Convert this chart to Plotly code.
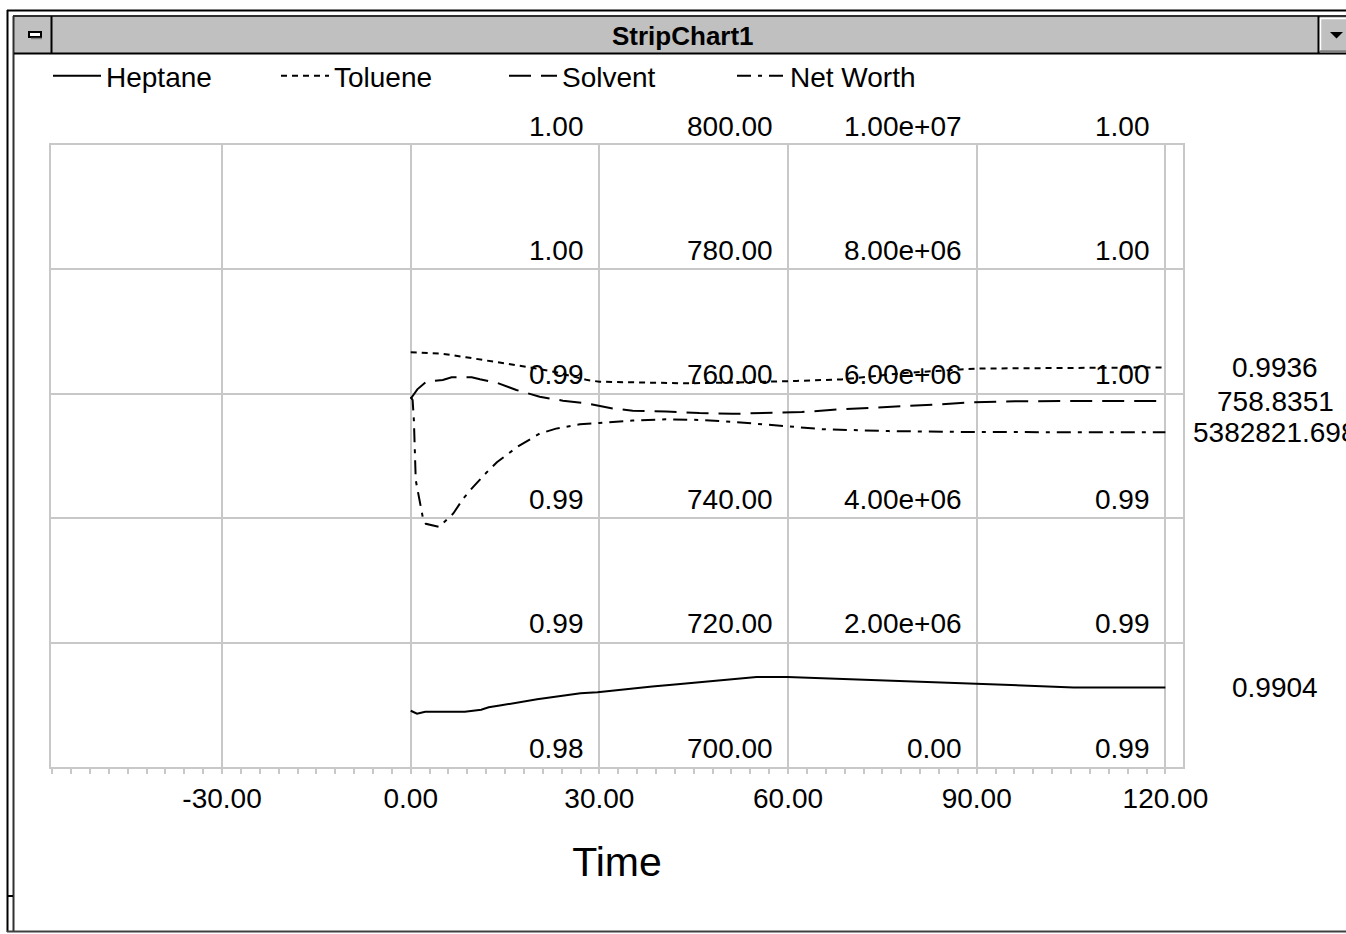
import plotly.graph_objects as go

# ---------------- data (time axis shared by all strips) ----------------
t_heptane = [0, 1.0, 2.3, 8.6, 11.2, 12.4, 14.4, 16.1, 18.1, 20.1, 22.4, 24.6, 27.0,
             29.7, 32.3, 35.1, 38.4, 42.0, 45.7, 49.8, 55.0, 59.9, 68.2, 79.0, 86.3,
             94.8, 105.4, 120.0]
heptane = [0.98993, 0.98987, 0.98991, 0.98991, 0.98995, 0.99000, 0.99004, 0.99008,
           0.99012, 0.99016, 0.99020, 0.99024, 0.99028, 0.99030, 0.99034, 0.99038,
           0.99042, 0.99046, 0.99050, 0.99055, 0.99061, 0.99061, 0.99057, 0.99052,
           0.99048, 0.99044, 0.99040, 0.9904]

t_toluene = [0, 5.1, 8.8, 12.0, 15.7, 18.9, 23.0, 27.9, 30.0, 35.3, 43.8, 51.2, 57.6,
             61.3, 68.5, 78.9, 90.0, 104.8, 120.0]
toluene = [0.99399, 0.99395, 0.99386, 0.99378, 0.99369, 0.99360, 0.99348, 0.99328,
           0.99323, 0.99321, 0.99319, 0.99321, 0.99323, 0.99325, 0.99329, 0.99346,
           0.99357, 0.99359, 0.9936]

t_solvent = [0, 1.05, 2.5, 5.1, 6.5, 9.7, 11.0, 13.7, 16.8, 20.5, 24.2, 27.9, 32.1,
             35.3, 40.6, 45.9, 51.2, 58.0, 62.2, 68.5, 76.0, 82.9, 89.2, 96.1, 104.8,
             120.0]
solvent = [759.2, 760.72, 761.95, 762.22, 762.65, 762.65, 762.33, 761.78, 760.61,
           759.53, 758.89, 758.46, 757.65, 757.28, 757.17, 756.90, 756.78, 756.90,
           757.07, 757.52, 757.85, 758.23, 758.62, 758.80, 758.84, 758.8351]

t_networth = [0, 0.3, 0.5, 0.6, 0.7, 0.8, 1.4, 2.0, 2.4, 4.5, 6.2, 6.8, 8.3, 9.9, 12.1,
              13.7, 17.0, 20.5, 23.1, 26.9, 30.0, 35.3, 40.6, 45.9, 51.2, 57.6, 61.3,
              65.6, 76.0, 90.0, 104.8, 120.0]
networth = [5.95e6, 5.90e6, 5.58e6, 5.26e6, 4.97e6, 4.61e6, 4.29e6, 3.97e6, 3.91e6,
            3.86e6, 4.02e6, 4.08e6, 4.31e6, 4.50e6, 4.74e6, 4.90e6, 5.15e6, 5.36e6,
            5.44e6, 5.51e6, 5.53e6, 5.57e6, 5.59e6, 5.58e6, 5.55e6, 5.50e6, 5.47e6,
            5.43e6, 5.40e6, 5.385e6, 5.383e6, 5382821.698]

# ---------------- scales and tick labels ----------------
x_range = [-57.2, 122.8]
x_ticks = [-30, 0, 30, 60, 90, 120]
x_tick_labels = ["-30.00", "0.00", "30.00", "60.00", "90.00", "120.00"]

toluene_range = [0.98332, 0.99932]
toluene_ticks = ["0.98", "0.99", "0.99", "0.99", "1.00", "1.00"]
solvent_range = [700.0, 800.0]
solvent_ticks = ["700.00", "720.00", "740.00", "760.00", "780.00", "800.00"]
networth_range = [0.0, 1.0e7]
networth_ticks = ["0.00", "2.00e+06", "4.00e+06", "6.00e+06", "8.00e+06", "1.00e+07"]
heptane_range = [0.9888, 1.0013]
heptane_ticks = ["0.99", "0.99", "0.99", "1.00", "1.00", "1.00"]

# ---------------- page geometry ----------------
W, H = 1346, 934
ML, MR, MT, MB = 51, 163, 145, 167
PW, PH = W - ML - MR, H - MT - MB

FONT = "Liberation Sans, Arial, sans-serif"
GRID = "#c8c8c8"
FACE = "#c0c0c0"
TXT = 28


def fx(px):
    return (px - ML) / PW


def fy(py):
    return (H - MB - py) / PH


def strip_ticks(rng, n):
    lo, hi = rng
    step = (hi - lo) / (n - 1)
    return [lo + i * step for i in range(n - 1)] + [hi]


fig = go.Figure()

# name, time, values, y axis, dash, range, tick labels, column (time), value format
# Heptane sits on the main y axis, whose gridlines give the shared strip grid;
# the other strips get their own scales laid over it.
series = [
    ("Heptane", t_heptane, heptane, "y", "solid", heptane_range, heptane_ticks, 120, "{:.4f}"),
    ("Toluene", t_toluene, toluene, "y2", "6px,5px", toluene_range, toluene_ticks, 30, "{:.4f}"),
    ("Solvent", t_solvent, solvent, "y3", "22px,10px", solvent_range, solvent_ticks, 60, "{:.4f}"),
    ("Net Worth", t_networth, networth, "y4", "14px,7px,4px,7px", networth_range, networth_ticks, 90, "{:.3f}"),
]

for name, t, v, yax, dash, *_ in series:
    fig.add_trace(go.Scatter(x=t, y=v, name=name, yaxis=yax, mode="lines",
                             line=dict(color="black", width=2, dash=dash),
                             hoverinfo="skip"))

txt_font = dict(family=FONT, size=TXT, color="black")

layout_axes = {}
annotations = []
for name, t, v, yax, dash, rng, labels, col, fmt in series:
    if yax != "y":
        layout_axes["yaxis" + yax[1:]] = dict(overlaying="y", anchor="x", side="right",
                                             range=rng, visible=False, fixedrange=True)
    # value column printed just above each horizontal gridline
    for val, lab in zip(strip_ticks(rng, len(labels)), labels):
        annotations.append(dict(x=col, xref="x", y=val, yref=yax, text=lab,
                                showarrow=False, xanchor="right", yanchor="middle",
                                xshift=-13, yshift=19, font=txt_font))
    # latest value of the strip
    annotations.append(dict(x=fx(1275), xref="paper", y=v[-1], yref=yax,
                            text=fmt.format(v[-1]), showarrow=False,
                            xanchor="center", yanchor="middle", font=txt_font))

annotations.append(dict(x=fx(683), xref="paper", y=fy(36), yref="paper",
                        text="<b>StripChart1</b>", showarrow=False,
                        xanchor="center", yanchor="middle",
                        font=dict(family=FONT, size=26, color="black")))

# window frame drawn around the chart
shapes = []


def rect(x0, y0, x1, y1, fill, line_color=None, lw=0):
    shapes.append(dict(type="rect", xref="paper", yref="paper",
                       x0=fx(x0), x1=fx(x1), y0=fy(y0), y1=fy(y1),
                       fillcolor=fill, layer="above",
                       line=dict(color=line_color or fill, width=lw)))


def seg(x0, y0, x1, y1, color="black", lw=2):
    shapes.append(dict(type="line", xref="paper", yref="paper",
                       x0=fx(x0), x1=fx(x1), y0=fy(y0), y1=fy(y1), layer="above",
                       line=dict(color=color, width=lw)))


rect(14, 17, W, 53, FACE)                    # caption bar
seg(7.5, 10, 7.5, 932)                       # outer frame
seg(7, 10.5, W, 10.5)
seg(13.5, 16, 13.5, 932, "#303030")          # inner frame
seg(13, 16, W, 16, "#303030")
seg(14, 53.5, W, 53.5)                       # caption bottom edge
seg(51.5, 16, 51.5, 54)                      # system menu separator
seg(7, 931.5, W, 931.5, "#404040")           # bottom edge
seg(7, 896, 13, 896)
rect(29, 32, 41, 37, "white", "black", 2)    # system menu glyph
seg(31, 38.5, 42, 38.5, "#808080", 1.5)
# drop-down button
seg(1318.5, 16, 1318.5, 54)
seg(1320.5, 18, 1320.5, 51, "white", 1.5)
seg(1320, 18.5, W, 18.5, "white", 1.5)
seg(1320, 51.5, W, 51.5, "#808080", 2.5)
shapes.append(dict(type="path", xref="paper", yref="paper", layer="above",
                   path="M {} {} L {} {} L {} {} Z".format(
                       fx(1330), fy(32), fx(1343), fy(32), fx(1336.5), fy(38.5)),
                   fillcolor="black", line=dict(color="black", width=0)))

fig.update_layout(
    width=W, height=H,
    margin=dict(l=ML, r=MR, t=MT, b=MB, pad=0),
    paper_bgcolor="white", plot_bgcolor="white",
    font=txt_font,
    showlegend=True,
    legend=dict(orientation="h", x=fx(48), y=fy(76), xanchor="left", yanchor="middle",
                font=txt_font, bgcolor="rgba(0,0,0,0)", borderwidth=0,
                itemwidth=48, entrywidth=165, entrywidthmode="pixels",
                itemclick=False, itemdoubleclick=False),
    xaxis=dict(range=x_range, tickmode="array", tickvals=x_ticks, ticktext=x_tick_labels,
               ticks="outside", ticklen=5, tickwidth=1.5, tickcolor=GRID,
               showgrid=True, gridcolor=GRID, gridwidth=2, zeroline=False,
               showline=True, linecolor=GRID, linewidth=2, mirror=True,
               tickfont=txt_font,
               minor=dict(dtick=3, tick0=0, ticks="outside", ticklen=5,
                          tickwidth=1.5, tickcolor=GRID, showgrid=False),
               title=dict(text="Time", font=dict(family=FONT, size=41, color="black"),
                          standoff=35),
               automargin=False, fixedrange=True),
    yaxis=dict(range=heptane_range, tickmode="array",
               tickvals=strip_ticks(heptane_range, len(heptane_ticks)),
               showticklabels=False, ticks="", showgrid=True, gridcolor=GRID,
               gridwidth=2, zeroline=False, showline=True, linecolor=GRID,
               linewidth=2, mirror=True, automargin=False, fixedrange=True),
    annotations=annotations,
    shapes=shapes,
    **layout_axes,
)

fig.write_html("out.html", config={"displayModeBar": False})
